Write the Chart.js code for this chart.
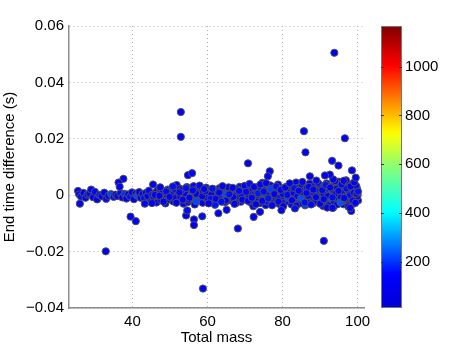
<!DOCTYPE html>
<html>
<head>
<meta charset="utf-8">
<script src="https://cdn.jsdelivr.net/npm/chart.js@4"></script>
<style>
  html, body { margin: 0; padding: 0; background: #fff; }
</style>
</head>
<body>
<canvas id="myChart" width="463" height="349"></canvas>
<script>
// total mass of each run
const mass = [
  // band, low masses
  25.5, 25.8, 26.0, 26.3, 27.0, 27.5, 28.0, 28.6, 29.0, 29.5,
  30.0, 30.6, 31.2, 31.8, 32.5, 33.0, 33.6, 34.3, 35.0, 35.5,
  36.0, 36.8, 37.3, 37.9, 38.4, 38.9, 39.4, 39.9, 40.4, 40.9,
  41.3, 41.8, 42.2, 42.7, 43.1, 43.6, 44.0, 44.4, 44.9, 45.3,
  // band, 45-70
  45.5, 45.8, 46.1, 46.4, 46.7, 47.0, 47.3, 47.6, 47.9, 48.2,
  48.5, 48.8, 49.1, 49.4, 49.7, 50.0, 50.3, 50.6, 50.9, 51.2,
  51.5, 51.8, 52.1, 52.4, 52.7, 53.0, 53.3, 53.6, 53.9, 54.2,
  54.5, 54.8, 55.1, 55.4, 55.7, 56.0, 56.3, 56.6, 56.9, 57.2,
  57.5, 57.8, 58.1, 58.4, 58.7, 59.0, 59.3, 59.6, 59.9, 60.2,
  60.5, 60.8, 61.1, 61.4, 61.7, 62.0, 62.3, 62.6, 62.9, 63.2,
  63.5, 63.8, 64.1, 64.4, 64.7, 65.0, 65.3, 65.6, 65.9, 66.2,
  66.5, 66.8, 67.1, 67.4, 67.7, 68.0, 68.3, 68.6, 68.9, 69.2,
  69.5, 69.8,
  46.0, 48.0, 50.5, 52.0, 54.0, 55.5, 57.0, 59.5, 61.0, 63.0,
  64.8, 66.9, 69.0, 47.2, 51.0, 53.2, 55.0, 58.8, 60.9, 62.8,
  65.2, 67.9,
  // band, 70-100
  70.1, 70.4, 70.7, 71.0, 71.3, 71.6, 71.9, 72.2, 72.5, 72.8,
  73.1, 73.4, 73.7, 74.0, 74.3, 74.6, 74.9, 75.2, 75.5, 75.8,
  76.1, 76.4, 76.7, 77.0, 77.3, 77.6, 77.9, 78.2, 78.5, 78.8,
  79.1, 79.4, 79.7, 80.0, 80.3, 80.6, 80.9, 81.2, 81.5, 81.8,
  82.1, 82.4, 82.7, 83.0, 83.3, 83.6, 83.9, 84.2, 84.5, 84.8,
  85.1, 85.4, 85.7, 86.0, 86.3, 86.6, 86.9, 87.2, 87.5, 87.8,
  88.1, 88.4, 88.7, 89.0, 89.3, 89.6, 89.9, 90.2, 90.5, 90.8,
  91.1, 91.4, 91.7, 92.0, 92.3, 92.6, 92.9, 93.2, 93.5, 93.8,
  94.1, 94.4, 94.7, 95.0, 95.3, 95.6, 95.9, 96.2, 96.5, 96.8,
  97.1, 97.4, 97.7, 98.0, 98.3, 98.6, 98.9, 99.2, 99.5, 99.8,
  100.0, 100.1,
  70.9, 72.0, 73.3, 74.8, 76.0, 77.5, 78.7, 80.1, 81.4, 82.9,
  84.0, 85.5, 86.8, 88.0, 89.5, 90.9, 92.1, 93.0, 94.3, 95.5,
  96.7, 97.9, 99.0, 99.9, 71.5, 73.9, 75.7, 78.0, 79.9, 82.2,
  84.6, 86.5, 88.8, 91.2, 93.6, 95.8, 97.6, 99.6,
  // band, extra layer
  47.4, 48.3, 49.0, 49.9, 50.8, 51.7, 52.5, 53.4, 54.3, 55.2,
  56.1, 57.0, 57.9, 58.6, 59.4, 60.3, 61.3, 62.2, 63.1, 64.0,
  64.9, 65.8, 66.7, 67.6, 68.4, 69.3, 69.9, 59.1, 63.7, 67.2,
  70.3, 70.8, 71.2, 71.8, 72.4, 72.9, 73.5, 74.1, 74.6, 75.0,
  75.6, 76.2, 76.8, 77.2, 77.8, 78.3, 78.9, 79.5, 80.2, 80.7,
  81.3, 81.9, 82.5, 83.1, 83.7, 84.3, 84.9, 85.3, 85.9, 86.4,
  87.0, 87.6, 88.2, 88.9, 89.4, 90.0, 90.6, 91.0, 91.5, 92.2,
  92.7, 93.3, 93.9, 94.5, 94.9, 95.4, 96.0, 96.4, 97.0, 97.5,
  98.1, 98.7, 99.1, 99.4, 99.7, 100.1, 96.9, 94.0, 91.9, 89.0,
  // outliers
  93.8, 52.9, 52.9, 85.7, 86.1, 96.6, 70.8, 93.2, 94.9, 98.5,
  99.5, 32.9, 58.8, 91.0, 68.1, 39.5, 40.9, 56.4, 56.4, 58.6,
  62.9, 72.3, 54.3, 54.6, 37.6, 36.3, 54.8, 55.9, 76.6, 76.1,
  87.3, 98.3, 98.0, 83.3, 79.7, 36.6, 45.2, 43.3, 65.1, 74.0,
  93.3, 93.5, 92.6, 91.3, 95.7, 96.3
];

// end time difference (s)
const timeDiff = [
  0.0015, 0.0003, -0.0030, -0.0005, 0.0008, -0.0009, 0.0002, 0.0006, 0.0020, -0.0007,
  0.0012, -0.0015, 0.0001, -0.0004, 0.0009, -0.0013, -0.0002, 0.0004, -0.0006, 0.0002,
  -0.0003, 0.0007, -0.0008, 0.0005, -0.0012, 0.0003, -0.0005, 0.0010, -0.0014, 0.0006,
  -0.0002, 0.0011, -0.0009, 0.0004, -0.0010, 0.0008, -0.0003, 0.0016, -0.0024, 0.0002,

  0.0038, -0.0011, 0.0009, -0.0026, 0.0017, -0.0004, 0.0022, -0.0018, 0.0005, -0.0009,
  0.0014, -0.0029, 0.0002, 0.0020, -0.0015, 0.0008, -0.0003, 0.0026, -0.0022, 0.0011,
  -0.0007, 0.0036, -0.0019, 0.0004, 0.0023, -0.0012, 0.0009, -0.0030, 0.0016, -0.0005,
  0.0029, -0.0024, 0.0003, 0.0019, -0.0010, 0.0006, 0.0032, -0.0033, 0.0012, -0.0008,
  0.0024, -0.0016, 0.0001, 0.0015, -0.0027, 0.0007, -0.0002, 0.0027, -0.0014, 0.0004,
  0.0018, -0.0021, 0.0009, -0.0006, 0.0021, -0.0034, 0.0013, -0.0011, 0.0002, 0.0025,
  -0.0017, 0.0006, -0.0003, 0.0016, -0.0025, 0.0010, -0.0009, 0.0028, -0.0013, 0.0005,
  -0.0020, 0.0014, -0.0001, 0.0022, -0.0018, 0.0008, -0.0006, 0.0030, -0.0023, 0.0011,
  -0.0004, 0.0019,
  0.0001, 0.0010, 0.0000, -0.0004, 0.0007, -0.0002, 0.0005, -0.0008, 0.0003, -0.0005,
  0.0004, -0.0007, 0.0003, -0.0002, -0.0010, 0.0018, -0.0016, 0.0011, -0.0012, 0.0014,
  -0.0019, 0.0021,

  -0.0015, 0.0026, -0.0003, 0.0033, -0.0024, 0.0009, 0.0018, -0.0039, 0.0004, 0.0022,
  -0.0012, 0.0001, 0.0031, -0.0028, 0.0014, 0.0044, -0.0007, 0.0020, -0.0035, 0.0006,
  0.0017, -0.0019, 0.0035, -0.0004, 0.0010, -0.0026, 0.0028, -0.0011, 0.0003, 0.0038,
  -0.0031, 0.0015, -0.0002, 0.0024, -0.0016, 0.0008, 0.0030, -0.0022, 0.0012, -0.0006,
  0.0021, -0.0033, 0.0005, 0.0019, -0.0013, 0.0045, -0.0001, 0.0027, -0.0025, 0.0009,
  0.0034, -0.0010, 0.0016, -0.0036, 0.0002, 0.0025, -0.0018, 0.0041, -0.0005, 0.0013,
  -0.0029, 0.0032, 0.0004, -0.0015, 0.0020, -0.0008, 0.0037, -0.0023, 0.0011, -0.0038,
  0.0026, 0.0000, 0.0042, -0.0012, 0.0018, -0.0027, 0.0006, 0.0031, -0.0044, 0.0014,
  -0.0009, 0.0023, -0.0020, 0.0048, 0.0003, -0.0016, 0.0029, -0.0032, 0.0010, -0.0004,
  0.0036, -0.0024, 0.0008, 0.0020, -0.0011, 0.0040, -0.0030, 0.0015, -0.0006, 0.0025,
  0.0002, -0.0019,
  0.0002, -0.0008, 0.0012, -0.0015, 0.0000, 0.0007, -0.0009, 0.0004, -0.0010, 0.0009,
  -0.0004, 0.0006, -0.0002, 0.0010, -0.0014, 0.0005, -0.0003, -0.0019, 0.0007, -0.0008,
  -0.0015, 0.0000, 0.0009, -0.0005, -0.0019, 0.0029, -0.0022, 0.0023, -0.0027, 0.0032,
  -0.0029, 0.0027, -0.0020, 0.0030, -0.0029, 0.0035, -0.0034, 0.0033,

  0.0028, -0.0023, 0.0013, -0.0006, 0.0031, -0.0027, 0.0010, -0.0016, 0.0025, -0.0009,
  0.0017, -0.0021, 0.0034, -0.0004, 0.0014, -0.0029, 0.0023, -0.0013, 0.0009, 0.0032,
  -0.0019, 0.0003, 0.0026, -0.0028, 0.0015, -0.0016, 0.0033, 0.0022, -0.0023, -0.0031,
  0.0012, -0.0020, 0.0040, -0.0009, 0.0029, -0.0032, 0.0007, 0.0038, -0.0020, 0.0013,
  0.0043, -0.0011, 0.0022, -0.0036, 0.0004, 0.0031, -0.0023, 0.0019, -0.0039, 0.0027,
  0.0001, 0.0042, -0.0018, 0.0025, -0.0037, 0.0016, -0.0012, 0.0047, -0.0026, 0.0008,
  0.0030, -0.0033, 0.0020, -0.0007, 0.0044, -0.0030, 0.0018, -0.0014, 0.0036, -0.0036,
  0.0027, -0.0008, 0.0046, -0.0033, 0.0015, -0.0026, 0.0042, -0.0010, 0.0024, -0.0040,
  0.0031, -0.0019, 0.0046, -0.0027, 0.0005, 0.0013, 0.0053, 0.0050, -0.0044, 0.0052,

  0.0505, 0.0295, 0.0207, 0.0227, 0.0152, 0.0202, 0.0113, 0.0122, 0.0105, 0.0088,
  0.0062, -0.0199, -0.0331, -0.0162, -0.0118, -0.0076, -0.0092, -0.0086, -0.0106, -0.0075,
  -0.0064, -0.0077, -0.0072, -0.0054, 0.0058, 0.0045, 0.0071, 0.0078, 0.0085, 0.0067,
  0.0067, -0.0056, -0.0045, -0.0047, -0.0053, 0.0030, -0.0028, -0.0030, -0.0052, -0.0059,
  -0.0045, 0.0056, 0.0073, 0.0070, 0.0038, 0.0051
];

// colour value of each point (colour bar)
const colourVal = [
  130, 150, 115, 160, 140, 110, 165, 125, 145, 120,
  155, 105, 170, 135, 125, 150, 115, 215, 160, 140,
  110, 155, 130, 200, 145, 120, 165, 135, 105, 150,
  225, 125, 145, 115, 160, 140, 130, 145, 120, 165,

  135, 115, 160, 145, 125, 170, 110, 150, 205, 140,
  120, 155, 130, 170, 105, 145, 160, 125, 115, 155,
  140, 130, 165, 110, 150, 120, 220, 135, 160, 115,
  145, 125, 170, 140, 110, 230, 155, 130, 120, 160,
  135, 150, 105, 165, 125, 145, 215, 115, 155, 140,
  130, 160, 120, 150, 110, 170, 135, 125, 155, 115,
  145, 165, 210, 130, 140, 120, 155, 110, 150, 135,
  125, 160, 115, 145, 170, 140, 105, 155, 130, 160,
  120, 150,
  145, 125, 160, 115, 140, 235, 130, 155, 120, 165,
  225, 135, 150, 125, 155, 115, 145, 130, 160, 140,
  120, 155,

  140, 115, 160, 130, 150, 170, 110, 155, 125, 165,
  120, 145, 155, 135, 115, 160, 205, 130, 150, 140,
  170, 125, 110, 155, 145, 120, 160, 135, 228, 130,
  150, 115, 165, 140, 125, 155, 110, 145, 130, 160,
  135, 155, 120, 170, 140, 115, 150, 160, 125, 135,
  155, 110, 145, 215, 130, 165, 120, 140, 155, 125,
  150, 160, 115, 135, 170, 220, 130, 145, 110, 155,
  140, 120, 160, 150, 125, 165, 230, 135, 115, 155,
  145, 130, 160, 110, 140, 155, 210, 120, 150, 135,
  160, 125, 170, 115, 145, 140, 130, 155, 120, 160,
  135, 150,
  135, 155, 120, 232, 145, 130, 160, 115, 225, 140,
  155, 125, 150, 165, 215, 110, 145, 240, 130, 155,
  120, 160, 140, 125, 150, 115, 165, 135, 155, 120,
  145, 160, 130, 115, 155, 140, 125, 150,

  140, 120, 155, 130, 165, 115, 150, 135, 160, 125,
  145, 220, 155, 120, 140, 130, 165, 115, 150, 135,
  125, 160, 140, 110, 155, 130, 145, 120, 160, 135,
  150, 125, 160, 135, 145, 115, 170, 140, 120, 155,
  130, 165, 210, 145, 125, 160, 135, 150, 115, 140,
  155, 120, 145, 165, 130, 150, 228, 125, 160, 140,
  135, 155, 120, 145, 160, 130, 150, 115, 165, 140,
  125, 155, 135, 150, 120, 232, 145, 130, 160, 125,
  140, 155, 115, 150, 135, 165, 130, 145, 120, 150,

  125, 145, 140, 155, 130, 150, 135, 160, 120, 145,
  140, 130, 150, 125, 155, 135, 145, 120, 140, 160,
  130, 145, 135, 160, 150, 125, 140, 155, 130, 145,
  135, 150, 125, 160, 140, 145, 130, 155, 135, 150,
  140, 125, 145, 130, 155, 135
];

const xTicks = [40, 60, 80, 100];
const yTicks = [-0.04, -0.02, 0, 0.02, 0.04, 0.06];
const cbTicks = [200, 400, 600, 800, 1000];
const cMin = 10, cMax = 1167;

const font = 'Liberation Sans, Arial, Helvetica, sans-serif';

// jet-like colormap, as it looks on the colour bar
const cmapStops = [
  [0, 0, 0, 215], [0.12, 0, 0, 255], [0.34, 0, 255, 255], [0.49, 128, 255, 128],
  [0.62, 255, 255, 0], [0.86, 255, 0, 0], [1, 128, 0, 0]
];
function cmap(t) {
  t = Math.max(0, Math.min(1, t));
  let i = 1;
  while (i < cmapStops.length - 1 && t > cmapStops[i][0]) i++;
  const a = cmapStops[i - 1], b = cmapStops[i];
  const f = (t - a[0]) / (b[0] - a[0]);
  const c = k => Math.round(a[k] + (b[k] - a[k]) * f);
  return 'rgb(' + c(1) + ',' + c(2) + ',' + c(3) + ')';
}

const points = mass.map((m, i) => ({ x: m, y: timeDiff[i] }));

// draws the colour bar inside the right hand axis box
const colourBar = {
  id: 'colourBar',
  afterDraw(chart) {
    const s = chart.scales.cb;
    const ctx = chart.ctx;
    const x0 = s.left + 17, w = 21;
    const top = s.getPixelForValue(cMax), bot = s.getPixelForValue(cMin);
    const grad = ctx.createLinearGradient(0, bot, 0, top);
    for (let i = 0; i <= 64; i++) grad.addColorStop(i / 64, cmap(i / 64));
    ctx.save();
    ctx.fillStyle = grad;
    ctx.fillRect(x0, top, w, bot - top);
    ctx.strokeStyle = '#777';
    ctx.lineWidth = 1;
    ctx.strokeRect(x0 + 0.5, top + 0.5, w - 1, bot - top - 1);
    ctx.strokeStyle = '#333';
    cbTicks.forEach(v => {
      const y = Math.round(s.getPixelForValue(v)) + 0.5;
      ctx.beginPath();
      ctx.moveTo(x0, y); ctx.lineTo(x0 + 3, y);
      ctx.moveTo(x0 + w - 3, y); ctx.lineTo(x0 + w, y);
      ctx.stroke();
    });
    ctx.restore();
  }
};

const config = {
  type: 'scatter',
  data: {
    datasets: [{
      data: points,
      pointRadius: 3.6,
      pointHoverRadius: 3.6,
      borderWidth: 1,
      borderColor: '#505050',
      backgroundColor: ctx => cmap((colourVal[ctx.dataIndex] - cMin) / (cMax - cMin))
    }]
  },
  options: {
    responsive: false,
    devicePixelRatio: 1,
    animation: false,
    layout: { padding: { top: 26, left: 0, right: 0, bottom: 0 } },
    plugins: { legend: { display: false }, tooltip: { enabled: false } },
    scales: {
      x: {
        type: 'linear',
        min: 23.1,
        max: 101.7,
        afterBuildTicks: s => { s.ticks = xTicks.map(v => ({ value: v })); },
        afterFit: s => { s.height = 41; },
        grid: { color: '#b4b4b4', drawTicks: false },
        border: { color: '#8c8c8c', width: 1.5, dash: [1, 3] },
        ticks: { color: '#000', padding: 5, font: { family: font, size: 15 } },
        title: {
          display: true, text: 'Total mass', color: '#000',
          font: { family: font, size: 15 }, padding: { top: 0, bottom: 2 }
        }
      },
      y: {
        min: -0.04,
        max: 0.06,
        afterBuildTicks: s => { s.ticks = yTicks.map(v => ({ value: v })); },
        afterFit: s => { s.width = 69; },
        grid: { color: '#b4b4b4', drawTicks: false },
        border: { color: '#8c8c8c', width: 1.5, dash: [1, 3] },
        ticks: {
          color: '#000', padding: 5, font: { family: font, size: 15 },
          callback: v => v === 0 ? '0' : (v < 0 ? '\u2212' : '') + Math.abs(v).toFixed(2)
        },
        title: {
          display: true, text: 'End time difference (s)', color: '#000',
          font: { family: font, size: 15 }, padding: { top: 1, bottom: 0 }
        }
      },
      cb: {
        type: 'linear',
        position: 'right',
        min: cMin,
        max: cMax,
        afterBuildTicks: s => { s.ticks = cbTicks.map(v => ({ value: v })); },
        afterFit: s => { s.width = 99; s.paddingTop = 0; s.paddingBottom = 0; },
        grid: { display: false, drawTicks: true, tickLength: 38 },
        border: { display: false },
        ticks: {
          color: '#000', padding: 3, font: { family: font, size: 15 },
          callback: v => String(v)
        }
      }
    }
  },
  plugins: [colourBar]
};

const myChart = new Chart(document.getElementById('myChart'), config);
</script>
</body>
</html>
